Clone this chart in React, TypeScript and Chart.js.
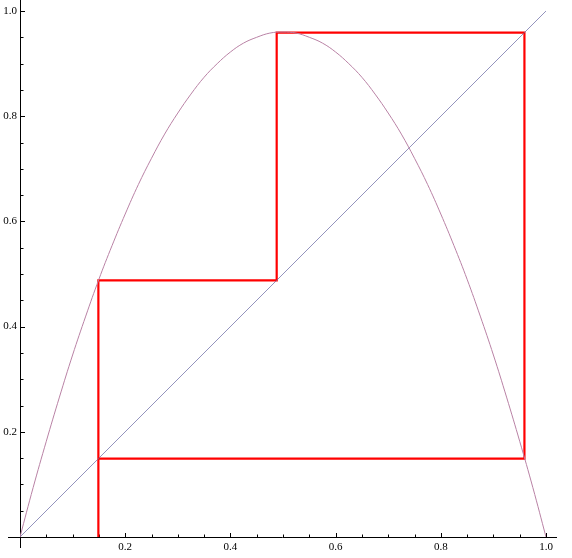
import React, { useEffect, useRef } from "react";
import { Chart, registerables } from "chart.js";

Chart.register(...registerables);

// Logistic curve (peak ≈ 0.96 at x = 0.5)
const curveX = [0, 0.025, 0.05, 0.075, 0.1, 0.125, 0.15, 0.175, 0.2, 0.225, 0.25, 0.275, 0.3, 0.325, 0.35, 0.375, 0.4, 0.425, 0.45, 0.475, 0.5, 0.525, 0.55, 0.575, 0.6, 0.625, 0.65, 0.675, 0.7, 0.725, 0.75, 0.775, 0.8, 0.825, 0.85, 0.875, 0.9, 0.925, 0.95, 0.975, 1];
const curveY = [0, 0.094, 0.182, 0.266, 0.346, 0.42, 0.49, 0.554, 0.614, 0.67, 0.72, 0.766, 0.806, 0.842, 0.874, 0.9, 0.922, 0.939, 0.95, 0.958, 0.96, 0.958, 0.95, 0.939, 0.922, 0.9, 0.874, 0.842, 0.806, 0.766, 0.72, 0.67, 0.614, 0.554, 0.49, 0.42, 0.346, 0.266, 0.182, 0.094, 0];

// Diagonal y = x
const diagX = [0, 1];
const diagY = [0, 1];

// Cobweb path
const webX = [0.149, 0.149, 0.488, 0.488, 0.959, 0.959, 0.149, 0.149];
const webY = [0, 0.488, 0.488, 0.959, 0.959, 0.149, 0.149, 0.488];

// Ticks
const majorTicks = [0.2, 0.4, 0.6, 0.8, 1.0];
const tickLabels = ["0.2", "0.4", "0.6", "0.8", "1.0"];
const minorTicks = [0.05, 0.1, 0.15, 0.25, 0.3, 0.35, 0.45, 0.5, 0.55, 0.65, 0.7, 0.75, 0.85, 0.9, 0.95];

const zip = (xs: number[], ys: number[]) => xs.map((x, i) => ({ x, y: ys[i] }));

const axesPlugin = {
  id: "mathAxes",
  beforeDatasetsDraw(chart: any) {
    const ctx = chart.ctx as CanvasRenderingContext2D;
    const xs = chart.scales.x;
    const ys = chart.scales.y;
    const x0 = xs.getPixelForValue(0);
    const y0 = ys.getPixelForValue(0);
    ctx.save();
    ctx.strokeStyle = "#000";
    ctx.lineWidth = 1;
    ctx.beginPath();
    ctx.moveTo(8, Math.round(y0) + 0.5);
    ctx.lineTo(557, Math.round(y0) + 0.5);
    ctx.moveTo(Math.round(x0) + 0.5, 0);
    ctx.lineTo(Math.round(x0) + 0.5, 548);
    ctx.stroke();

    ctx.beginPath();
    const drawTick = (v: number, len: number) => {
      const px = Math.round(xs.getPixelForValue(v)) + 0.5;
      ctx.moveTo(px, Math.round(y0));
      ctx.lineTo(px, Math.round(y0) - len);
      const py = Math.round(ys.getPixelForValue(v)) + 0.5;
      ctx.moveTo(Math.round(x0) + 1, py);
      ctx.lineTo(Math.round(x0) + 1 + len, py);
    };
    majorTicks.forEach((v) => drawTick(v, 4));
    minorTicks.forEach((v) => drawTick(v, 2.5));
    ctx.stroke();

    ctx.fillStyle = "#000";
    ctx.font = "11px 'Liberation Serif', 'DejaVu Serif', serif";
    majorTicks.forEach((v, i) => {
      const px = xs.getPixelForValue(v);
      ctx.textAlign = "center";
      ctx.textBaseline = "middle";
      ctx.fillText(tickLabels[i], px, y0 + 10);
      const py = ys.getPixelForValue(v);
      ctx.textAlign = "right";
      ctx.fillText(tickLabels[i], x0 - 3, py);
    });
    ctx.restore();
  },
};

export default function App() {
  const ref = useRef<HTMLCanvasElement | null>(null);
  useEffect(() => {
    document.body.style.margin = "0";
    const chart = new Chart(ref.current as HTMLCanvasElement, {
      type: "scatter",
      data: {
        datasets: [
          {
            data: zip(curveX, curveY),
            showLine: true,
            borderColor: "rgb(185,130,165)",
            borderWidth: 1,
            pointRadius: 0,
            tension: 0.4,
          },
          {
            data: zip(diagX, diagY),
            showLine: true,
            borderColor: "rgb(100,100,160)",
            borderWidth: 0.7,
            pointRadius: 0,
          },
          {
            data: zip(webX, webY),
            showLine: true,
            borderColor: "#ff0000",
            borderWidth: 2.2,
            pointRadius: 0,
            tension: 0,
          },
        ],
      },
      options: {
        animation: false,
        responsive: false,
        layout: { padding: { left: 20, right: 26, top: 11, bottom: 21 } },
        plugins: { legend: { display: false }, tooltip: { enabled: false } },
        scales: {
          x: { type: "linear", min: 0, max: 1, display: false },
          y: { type: "linear", min: 0, max: 1, display: false },
        },
      },
      plugins: [axesPlugin],
    });
    return () => chart.destroy();
  }, []);
  return <canvas ref={ref} width={572} height={558} style={{ display: "block" }} />;
}
